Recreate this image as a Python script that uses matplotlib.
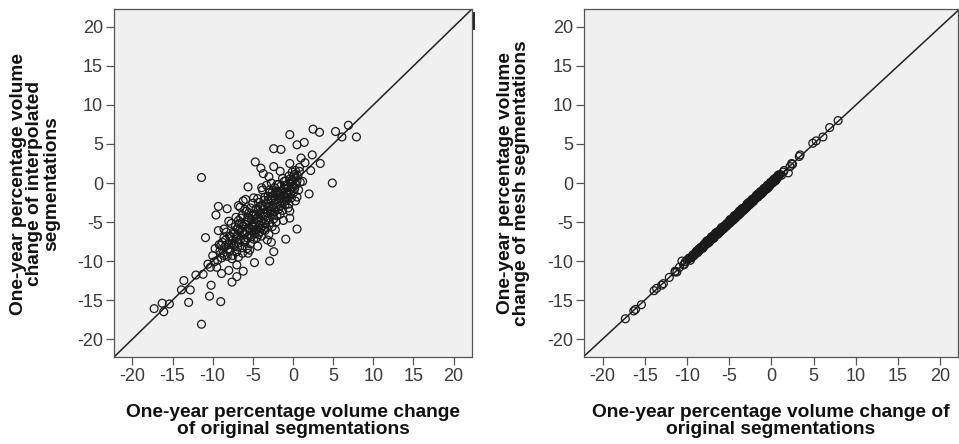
import matplotlib
matplotlib.use('Agg')
import matplotlib.pyplot as plt
from matplotlib.lines import Line2D

W, H = 959, 444

plt.rcParams['font.family'] = ['Liberation Sans', 'DejaVu Sans']
plt.rcParams['axes.unicode_minus'] = False

# one-year % volume change, original segmentations (x in both panels)
orig_change = [
    -17.3, -16.3, -16.1, -15.4, -13.9, -13.6, -13.0, -12.8, -12.1, -11.4,
    -11.4, -11.2, -10.9, -10.6, -10.4, -10.2, -9.8, -9.6, -9.5, -9.3,
    -9.3, -9.0, -8.9, -8.7, -8.6, -8.2, -8.0, -7.6, -7.6, -7.0,
    -7.0, -6.8, -6.2, -6.2, -5.7, -5.6, -4.8, -4.7, -4.4, -4.0,
    -3.7, -3.7, -2.9, -2.7, -2.4, -2.4, -2.4, -1.5, -0.9, -0.4,
    -0.4, -0.4, -0.4, 0.5, 0.5, 1.4, 2.0, 2.4, 2.5, 3.3,
    3.4, 4.9, 5.3, 6.1, 6.9, 7.9, 1.0, 0.8, 1.5, 2.2,
    0.2, -0.1, 1.2, -3.0, -3.3, -1.1, 0.3, -5.8, -6.5, -5.1,
    -9.1, -8.9, -8.5, -8.4, -8.2, -8.0, -7.9, -7.8, -7.6, -7.4,
    -7.3, -7.2, -7.1, -7.0, -6.9, -6.8, -6.7, -6.6, -6.5, -6.4,
    -6.3, -6.2, -6.1, -6.0, -6.0, -5.9, -5.8, -5.7, -5.6, -5.5,
    -5.4, -5.3, -5.3, -5.2, -5.1, -5.0, -5.0, -4.9, -4.8, -4.8,
    -4.7, -4.6, -4.5, -4.5, -4.4, -4.3, -4.2, -4.2, -4.1, -4.0,
    -3.9, -3.9, -3.8, -3.7, -3.6, -3.5, -3.5, -3.4, -3.3, -3.3,
    -3.2, -3.1, -3.0, -3.0, -2.9, -2.9, -2.8, -2.7, -2.7, -2.6,
    -2.5, -2.5, -2.4, -2.3, -2.3, -2.2, -2.1, -2.1, -2.0, -2.0,
    -1.9, -1.8, -1.8, -1.7, -1.6, -1.6, -1.5, -1.4, -1.3, -1.3,
    -1.2, -1.1, -1.0, -1.0, -0.9, -0.8, -0.8, -0.7, -0.6, -0.5,
    -0.5, -0.4, -0.3, -0.2, -0.1, 0.0, 0.1, 0.2, 0.3, 0.4,
    0.6, 0.7, 0.8, 0.9, -10.0, -9.7, -9.4, -10.3, -8.8, -7.7,
    -6.6, -7.5, -6.3, -5.4, -4.4, -3.8, -2.7, -1.6, -3.2, -2.2,
    -1.2, -0.6, 0.5, -4.9, -5.9, -7.1, -8.3, -8.0, -6.8, -5.6,
    -7.8, -7.3, -6.9, -6.4, -6.1, -5.7, -5.2, -4.9, -4.6, -4.3,
    -4.0, -3.7, -3.4, -3.1, -2.8, -2.5, -2.2, -1.9, -1.6, -1.3,
    -1.0, -0.7, -0.4, -0.1, 0.2, -5.5, -6.8, -7.6, -8.6, -9.0,
    -3.6, -4.1, -4.6, -5.1, -2.6, -3.1, -2.0, -1.5, -6.3, -5.9,
    -0.8, -0.3, 0.1, 0.5, -2.4, -3.5, -4.7, -5.3, -6.9, -7.4,
    -8.1, -8.6, -9.2, -3.9, -2.9, -1.8, -4.3, -5.0, -6.0, -1.1,
]

# interpolated segmentations (left panel y)
interp_change = [
    -16.1, -15.4, -16.5, -15.5, -13.7, -12.5, -15.3, -13.7, -11.8, 0.7,
    -18.1, -11.7, -7.0, -10.4, -14.5, -13.1, -10.1, -4.1, -10.8, -3.0,
    -6.1, -15.2, -11.6, -9.0, -5.9, -3.3, -11.2, -12.7, -9.7, -10.5,
    -12.0, -2.9, -11.3, -2.3, -8.4, -0.5, -10.2, 2.7, -8.1, 1.9,
    1.2, -6.0, -10.0, -7.6, -8.8, 4.4, 2.1, 4.3, -7.2, 6.2,
    2.5, -3.6, -4.5, 4.9, -5.9, 5.2, -1.4, 3.6, 6.9, 6.5,
    2.5, 0.0, 6.6, 5.9, 7.4, 5.9, 3.2, 2.0, 2.6, 1.6,
    1.1, 0.4, 0.2, 0.8, -0.3, -2.4, -2.3, -3.6, -4.5, -5.3,
    -8.7, -9.6, -8.2, -7.3, -9.4, -7.9, -6.8, -8.6, -7.4, -6.3,
    -8.1, -5.6, -7.0, -8.8, -6.6, -7.7, -5.2, -6.0, -7.2, -8.3,
    -4.1, -5.5, -6.6, -7.6, -3.4, -5.0, -6.2, -7.0, -4.4, -5.8,
    -6.7, -3.2, -7.8, -4.7, -6.1, -2.6, -5.5, -7.2, -4.0, -6.5,
    -5.1, -3.3, -5.9, -7.0, -4.4, -2.5, -5.4, -6.3, -3.8, -4.9,
    -6.8, -2.9, -5.5, -4.2, -3.4, -6.1, -1.8, -4.8, -5.7, -2.6,
    -3.8, -4.5, -6.6, -3.0, -1.2, -5.1, -2.2, -4.0, -3.4, -5.6,
    -1.6, -2.8, -4.6, -3.7, -0.6, -2.1, -5.0, -3.1, -1.4, -4.2,
    -2.6, -0.2, -3.4, -1.9, -4.0, -2.9, -1.1, -2.3, 0.6, -3.5,
    -1.6, -0.7, -2.8, -1.8, 0.3, -1.2, -2.2, -0.4, -1.6, 0.9,
    -2.7, -0.9, 0.0, -1.9, 1.4, -0.5, -1.2, 0.6, 1.6, -0.2,
    0.9, -0.9, 1.5, 0.1, -9.3, -8.4, -9.9, -10.8, -7.6, -5.2,
    -3.1, -9.3, -9.0, -8.6, -2.0, -0.9, 0.0, 1.5, -7.3, -6.0,
    -4.8, -3.2, -1.8, -1.9, -2.1, -4.4, -6.3, -4.9, -9.5, -9.0,
    -6.9, -6.5, -5.9, -5.3, -7.3, -4.8, -6.9, -5.7, -4.6, -6.6,
    -5.8, -3.0, -4.0, -2.2, -3.6, -4.1, -1.3, -1.1, -2.0, -1.0,
    -0.3, -1.4, 0.5, -0.1, -0.7, -3.8, -4.8, -7.8, -9.3, -8.0,
    -2.2, -3.1, -4.1, -4.2, -1.2, -1.7, -0.2, -0.4, -6.2, -7.3,
    -2.0, -1.4, 0.9, 0.3, -3.2, -5.2, -6.0, -5.9, -8.2, -7.9,
    -8.5, -7.0, -7.9, -0.6, -0.9, -1.6, -3.5, -4.2, -5.3, 0.2,
]

# mesh segmentations (right panel y)
mesh_change = [
    -17.4, -16.4, -16.2, -15.6, -13.8, -13.5, -13.1, -12.9, -12.1, -11.4,
    -11.3, -11.4, -10.8, -10.0, -10.5, -10.1, -9.7, -9.9, -9.6, -9.2,
    -9.4, -9.0, -8.8, -8.9, -8.5, -8.3, -8.1, -7.4, -7.7, -7.2,
    -6.9, -6.9, -6.2, -6.3, -5.8, -5.7, -4.9, -4.8, -4.6, -4.1,
    -3.8, -3.9, -3.0, -2.8, -2.5, -2.3, -2.5, -1.6, -1.0, -0.3,
    -0.5, -0.5, -0.6, 0.6, 0.4, 1.4, 1.3, 2.5, 2.4, 3.4,
    3.6, 5.1, 5.4, 5.9, 7.1, 8.0, 1.1, 0.9, 1.6, 2.1,
    0.3, 0.0, 1.0, -3.1, -3.3, -1.2, 0.2, -5.9, -6.4, -5.2,
    -9.2, -8.8, -8.6, -8.3, -8.4, -8.1, -7.8, -7.9, -7.7, -7.3,
    -7.5, -7.1, -7.2, -7.1, -6.8, -7.0, -6.6, -6.7, -6.6, -6.6,
    -6.2, -6.3, -6.2, -6.2, -5.9, -6.0, -5.9, -5.9, -5.5, -5.6,
    -5.5, -5.2, -5.5, -5.2, -5.2, -4.9, -5.1, -5.1, -4.7, -5.0,
    -4.8, -4.5, -4.7, -4.7, -4.5, -4.2, -4.3, -4.4, -4.0, -4.1,
    -4.1, -3.8, -3.9, -3.8, -3.6, -3.7, -3.3, -3.5, -3.5, -3.2,
    -3.2, -3.2, -3.2, -3.0, -2.7, -3.1, -2.7, -2.8, -2.7, -2.8,
    -2.4, -2.5, -2.6, -2.4, -2.1, -2.2, -2.3, -2.2, -1.9, -2.1,
    -1.9, -1.6, -1.9, -1.7, -1.8, -1.7, -1.4, -1.4, -1.1, -1.4,
    -1.2, -1.0, -1.2, -1.0, -0.7, -0.8, -0.9, -0.6, -0.7, -0.3,
    -0.7, -0.4, -0.2, -0.3, 0.1, 0.0, 0.0, 0.3, 0.5, 0.3,
    0.7, 0.6, 1.0, 0.9, -9.9, -9.6, -9.5, -10.4, -8.7, -7.5,
    -6.4, -7.7, -6.5, -5.6, -4.2, -3.6, -2.5, -1.4, -3.4, -2.4,
    -1.4, -0.8, 0.3, -4.7, -5.7, -6.9, -8.2, -7.9, -7.0, -5.8,
    -7.9, -7.4, -7.1, -6.3, -6.2, -5.8, -5.3, -5.0, -4.7, -4.5,
    -4.2, -3.9, -3.5, -3.2, -2.9, -2.6, -2.1, -2.0, -1.7, -1.5,
    -1.1, -0.8, -0.4, -0.2, 0.1, -5.6, -6.9, -7.7, -8.5, -9.1,
    -3.7, -4.2, -4.8, -5.3, -2.7, -3.2, -2.1, -1.5, -6.4, -6.0,
    -0.9, -0.5, 0.0, 0.4, -2.5, -3.6, -4.8, -5.4, -6.9, -7.6,
    -8.3, -8.6, -9.3, -4.1, -3.0, -1.9, -4.4, -5.1, -6.1, -1.2,
]

ticks = [-20, -15, -10, -5, 0, 5, 10, 15, 20]
tick_labels = ['-20', '-15', '-10', '-5', '0', '5', '10', '15', '20']

xlabel_left = 'One-year percentage volume change\nof original segmentations'
ylabel_left = 'One-year percentage volume\nchange of interpolated\nsegmentations'
xlabel_right = 'One-year percentage volume change of\noriginal segmentations'
ylabel_right = 'One-year percentage volume\nchange of mesh segmentations'

fig = plt.figure(figsize=(W / 100, H / 100), dpi=100)
ax1 = fig.add_axes([114 / W, 1 - 357 / H, (472 - 114) / W, 348 / H])
ax2 = fig.add_axes([584 / W, 1 - 357 / H, (958 - 584) / W, 348 / H])


def style(ax, xlim):
    ax.set_facecolor('#f0f0f0')
    ax.set_xlim(*xlim)
    ax.set_ylim(-22.3, 22.3)
    ax.set_xticks(ticks)
    ax.set_xticklabels(tick_labels)
    ax.set_yticks(ticks)
    ax.set_yticklabels(tick_labels)
    ax.tick_params(direction='out', length=6, width=0.9, color='#555',
                   labelsize=13, labelcolor='#3a3a3a', pad=2)
    for s in ax.spines.values():
        s.set_color('#555')
        s.set_linewidth(0.9)
    ax.axline((0, 0), slope=1, color='#222', lw=1.1, zorder=2)


style(ax1, (-22.3, 22.3))
style(ax2, (-22.2, 22.1))

ax1.scatter(orig_change, interp_change, s=32, facecolors='none',
            edgecolors='#1a1a1a', linewidths=0.9, zorder=3)
ax2.scatter(orig_change, mesh_change, s=32, facecolors='none',
            edgecolors='#1a1a1a', linewidths=0.9, zorder=3)

lab = dict(fontsize=13.8, fontweight='bold', color='#111',
           ha='center', va='center', multialignment='center', linespacing=0.95)
fig.text(293 / W, 1 - 421 / H, xlabel_left, **lab)
fig.text(771 / W, 1 - 421 / H, xlabel_right, **lab)
fig.text(35 / W, 1 - 184 / H, ylabel_left, rotation=90, **lab)
fig.text(513.5 / W, 1 - 183 / H, ylabel_right, rotation=90, **lab)

# small stray mark right of the left panel
fig.add_artist(Line2D([474 / W, 474 / W], [1 - 13 / H, 1 - 29 / H],
                      transform=fig.transFigure, color='#111', lw=1.3))

plt.savefig('out.png', dpi=100)
